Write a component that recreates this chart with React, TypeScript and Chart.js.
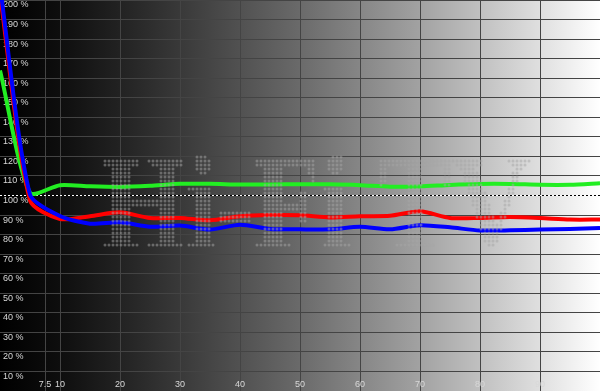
import React, { useEffect, useRef } from 'react';
import { Chart, registerables } from 'chart.js';

Chart.register(...registerables);

// Stimulus levels (%)
const stimulus = [0, 5, 10, 15, 20, 25, 30, 35, 40, 45, 50, 55, 60, 65, 70, 75, 80, 85, 90, 95, 100];
// RGB balance (%)
const greenValues = [164, 101.5, 105.3, 104.7, 104.4, 105, 106, 106, 105.6, 105.6, 105.8, 105.7, 105.3, 104.5, 104.6, 105.4, 105.9, 105.9, 105.5, 105.5, 106.3];
const redValues = [203, 97.5, 88, 89.4, 91.4, 88.5, 88.5, 87.3, 89.4, 90, 89.9, 88.8, 89.4, 89.6, 91.9, 88.5, 88.5, 89, 88.5, 87.7, 87.7];
const blueValues = [207, 100.5, 89.5, 85.6, 86.3, 84, 84.6, 82.6, 85.1, 82.9, 82.7, 82.7, 84, 82.7, 84.8, 83.7, 82.1, 82.2, 82.6, 82.9, 83.4];

const xTicks = [7.5, 10, 20, 30, 40, 50, 60, 70, 80, 90];
const xTickLabels = ['7.5', '10', '20', '30', '40', '50', '60', '70', '80', '90'];
const yTicks = [0, 10, 20, 30, 40, 50, 60, 70, 80, 90, 100, 110, 120, 130, 140, 150, 160, 170, 180, 190, 200];
const referenceLevel = 100;
const watermarkText = 'Hi-Fi TV';

const toPoints = (vals: number[]) => vals.map((v, i) => ({ x: stimulus[i], y: v }));

const bgPlugin = {
  id: 'grayRamp',
  beforeDraw(chart: any) {
    const { ctx, width, height } = chart;
    const g = ctx.createLinearGradient(0, 0, width, 0);
    const stops: [number, string][] = [
      [0, '#000000'], [0.1, '#0e0e0e'], [0.2, '#222222'], [0.3, '#393939'], [0.4, '#515151'],
      [0.5, '#6a6a6a'], [0.6, '#868686'], [0.7, '#a2a2a2'], [0.8, '#c0c0c0'], [0.9, '#dfdfdf'], [1, '#ffffff'],
    ];
    stops.forEach(([o, c]) => g.addColorStop(o, c));
    ctx.save();
    ctx.fillStyle = g;
    ctx.fillRect(0, 0, width, height);
    ctx.restore();
  },
};

// dotted logo watermark drawn over everything
const watermarkPlugin = {
  id: 'dotLogo',
  afterDraw(chart: any) {
    const { ctx } = chart;
    const off = document.createElement('canvas');
    off.width = 900;
    off.height = 200;
    const o = off.getContext('2d');
    if (!o) return;
    o.fillStyle = '#000';
    o.font = 'bold 140px "Liberation Serif"';
    o.textBaseline = 'alphabetic';
    const m = o.measureText(watermarkText);
    const baseY = 170;
    o.fillText(watermarkText, 10, baseY);
    const srcL = 10 + (-m.actualBoundingBoxLeft || 0);
    const srcR = 10 + m.actualBoundingBoxRight;
    const srcT = baseY - m.actualBoundingBoxAscent;
    const srcB = baseY;
    const img = o.getImageData(0, 0, off.width, off.height).data;
    const box = { l: 103, r: 530, t: 155, b: 249 };
    const step = 4;
    ctx.save();
    ctx.fillStyle = 'rgba(165,165,165,0.5)';
    for (let y = box.t + 2; y < box.b; y += step) {
      for (let x = box.l + 2; x < box.r; x += step) {
        const sx = Math.round(srcL + ((x - box.l) / (box.r - box.l)) * (srcR - srcL));
        const sy = Math.round(srcT + ((y - box.t) / (box.b - box.t)) * (srcB - srcT));
        if (sx < 0 || sy < 0 || sx >= off.width || sy >= off.height) continue;
        if (img[(sy * off.width + sx) * 4 + 3] > 110) {
          ctx.beginPath();
          ctx.arc(x, y, 1.5, 0, Math.PI * 2);
          ctx.fill();
        }
      }
    }
    ctx.restore();
  },
};

const zeroPad = (s: any) => {
  s.paddingTop = 0;
  s.paddingBottom = 0;
  s.paddingLeft = 0;
  s.paddingRight = 0;
};

export default function App() {
  const ref = useRef<HTMLCanvasElement | null>(null);
  useEffect(() => {
    if (!ref.current) return;
    const lineDs = (label: string, vals: number[], color: string) => ({
      label,
      data: toPoints(vals),
      borderColor: color,
      backgroundColor: color,
      borderWidth: 4,
      pointRadius: 0,
      tension: 0.25,
      fill: false,
    });
    const refPts = [
      { x: 0, y: referenceLevel },
      { x: 100, y: referenceLevel },
    ];
    const chart = new Chart(ref.current, {
      type: 'line',
      data: {
        datasets: [
          { label: 'refDark', data: refPts, borderColor: '#000000', borderWidth: 1, pointRadius: 0, order: 10 },
          { label: 'refLight', data: refPts, borderColor: '#ffffff', borderWidth: 1, borderDash: [2, 2], pointRadius: 0, order: 9 },
          { ...lineDs('Grün', greenValues, '#22ee22'), order: 3 },
          { ...lineDs('Rot', redValues, '#ff0000'), order: 2 },
          { ...lineDs('Blau', blueValues, '#0000ff'), order: 1 },
        ],
      },
      options: {
        responsive: false,
        animation: false,
        layout: { padding: 0 },
        plugins: { legend: { display: false }, tooltip: { enabled: false } },
        scales: {
          x: {
            type: 'linear',
            min: 0,
            max: 100,
            position: 'bottom',
            afterBuildTicks: (s: any) => {
              s.ticks = xTicks.map((v) => ({ value: v }));
            },
            afterFit: (s: any) => {
              s.height = 0;
              zeroPad(s);
            },
            border: { display: false },
            grid: { color: '#444444', drawTicks: false, lineWidth: 1 },
            ticks: {
              mirror: true,
              padding: 1,
              color: '#d8d8d8',
              font: { family: 'Liberation Sans', size: 9 },
              maxRotation: 0,
              autoSkip: false,
              callback: (v: any) => {
                const i = xTicks.indexOf(Number(v));
                return i >= 0 ? xTickLabels[i] : '';
              },
            },
          },
          y: {
            type: 'linear',
            min: 0,
            max: 200,
            position: 'left',
            afterBuildTicks: (s: any) => {
              s.ticks = yTicks.map((v) => ({ value: v }));
            },
            afterFit: (s: any) => {
              s.width = 0;
              zeroPad(s);
            },
            border: { display: false },
            grid: {
              drawTicks: false,
              lineWidth: 1,
              color: (c: any) => (c.tick && c.tick.value === referenceLevel ? 'rgba(0,0,0,0)' : '#444444'),
            },
            ticks: {
              mirror: true,
              padding: 3,
              labelOffset: 5,
              color: '#d8d8d8',
              font: { family: 'Liberation Sans', size: 9 },
              autoSkip: false,
              callback: (v: any) => (Number(v) === 0 ? '' : `${v} %`),
            },
          },
        },
      },
      plugins: [bgPlugin, watermarkPlugin],
    });
    return () => chart.destroy();
  }, []);
  return (
    <div style={{ position: 'fixed', left: 0, top: 0, width: 600, height: 391 }}>
      <canvas ref={ref} width={600} height={391} style={{ display: 'block', width: 600, height: 391 }} />
    </div>
  );
}
